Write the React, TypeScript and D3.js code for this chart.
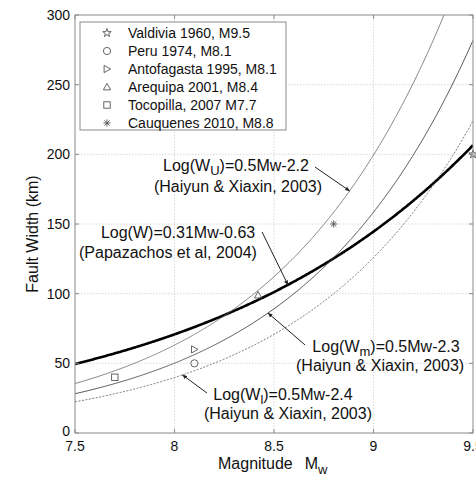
import React from "react";
import * as d3 from "d3";

const WIDTH = 476;
const HEIGHT = 478;

const xTicks = [7.5, 8, 8.5, 9, 9.5];
const xTickLabels = ["7.5", "8", "8.5", "9", "9.5"];
const yTicks = [0, 50, 100, 150, 200, 250, 300];
const yTickLabels = ["0", "50", "100", "150", "200", "250", "300"];

const eventNames = [
  "Valdivia 1960, M9.5",
  "Peru 1974, M8.1",
  "Antofagasta 1995, M8.1",
  "Arequipa 2001, M8.4",
  "Tocopilla, 2007 M7.7",
  "Cauquenes 2010, M8.8",
];
const eventMw = [9.5, 8.1, 8.1, 8.42, 7.7, 8.8];
const eventWidth = [200, 50, 60, 99, 40, 150];
const eventSymbols = ["star", "circle", "triRight", "triUp", "square", "asterisk"];

// Log10(W) = slope * Mw + intercept
const curveNames = ["Papazachos", "Wu", "Wm", "Wl"];
const curveSlopes = [0.31, 0.5, 0.5, 0.5];
const curveIntercepts = [-0.63, -2.2, -2.3, -2.4];
const curveStroke = ["#000", "#666", "#444", "#555"];
const curveWidth = [2.6, 0.8, 0.9, 0.8];
const curveDash = ["", "", "", "2,1.5"];

// annotations: curve index, arrow tip Mw, arrow start (Mw, W), text lines
const annCurve = [1, 0, 2, 3];
const annTipMw = [8.88, 8.57, 8.47, 8.04];
const annStart = [
  [8.706, 190.9],
  [8.44, 144.3],
  [8.656, 63.2],
  [8.163, 28.7],
];
const annMain = ["U", "", "m", "l"];
const annRest = ["=0.5Mw-2.2", "=0.31Mw-0.63", "=0.5Mw-2.3", "=0.5Mw-2.4"];
const annLine2 = [
  "(Haiyun & Xiaxin, 2003)",
  "(Papazachos et al, 2004)",
  "(Haiyun & Xiaxin, 2003)",
  "(Haiyun & Xiaxin, 2003)",
];
const annLine1Pos = [
  [8.309, 188.0],
  [8.018, 140.0],
  [9.063, 58.1],
  [8.545, 23.7],
];
const annLine2Pos = [
  [8.319, 173.0],
  [7.967, 125.6],
  [9.033, 44.5],
  [8.57, 10.0],
];

const FONT = "'Liberation Sans', Arial, Helvetica, sans-serif";

function Marker({ type, cx, cy, color = "#333" }: { type: string; cx: number; cy: number; color?: string }) {
  const r = 3.6;
  const common = { fill: "none", stroke: color, strokeWidth: 0.9 };
  switch (type) {
    case "star": {
      const p = d3.symbol(d3.symbolStar, 22)();
      return <path d={p || ""} transform={`translate(${cx},${cy})`} {...common} />;
    }
    case "circle":
      return <circle cx={cx} cy={cy} r={r} {...common} />;
    case "triRight":
      return (
        <path
          d={`M${cx - r * 0.8},${cy - r} L${cx + r},${cy} L${cx - r * 0.8},${cy + r} Z`}
          {...common}
        />
      );
    case "triUp":
      return (
        <path
          d={`M${cx},${cy - r} L${cx + r},${cy + r * 0.8} L${cx - r},${cy + r * 0.8} Z`}
          {...common}
        />
      );
    case "square":
      return <rect x={cx - 3.2} y={cy - 3.2} width={6.4} height={6.4} {...common} />;
    case "asterisk": {
      const a = r * 0.72;
      return (
        <g {...common}>
          <line x1={cx - r} y1={cy} x2={cx + r} y2={cy} />
          <line x1={cx} y1={cy - r} x2={cx} y2={cy + r} />
          <line x1={cx - a} y1={cy - a} x2={cx + a} y2={cy + a} />
          <line x1={cx - a} y1={cy + a} x2={cx + a} y2={cy - a} />
        </g>
      );
    }
  }
  return null;
}

export default function App() {
  const x = d3.scaleLinear().domain([7.5, 9.5]).range([75, 473]);
  const y = d3.scaleLinear().domain([0, 300]).range([433, 15]);
  const [x0, x1] = x.range();
  const [y0, y1] = y.range();

  const mwGrid = d3.range(7.5, 9.5001, 0.005);
  const curveFn = (i: number) => (m: number) => Math.pow(10, curveSlopes[i] * m + curveIntercepts[i]);
  const line = d3
    .line<[number, number]>()
    .x((d) => x(d[0]))
    .y((d) => y(d[1]));

  const tickLen = 4;

  return (
    <svg
      width={WIDTH}
      height={HEIGHT}
      style={{ position: "absolute", left: 0, top: 0, background: "#fff" }}
      fontFamily={FONT}
    >
      <defs>
        <clipPath id="plotClip">
          <rect x={x0} y={y1} width={x1 - x0} height={y0 - y1} />
        </clipPath>
        <marker id="arrow" viewBox="0 0 10 10" refX="9" refY="5" markerWidth="5" markerHeight="5" orient="auto">
          <path d="M0,1 L10,5 L0,9 Z" fill="#222" />
        </marker>
      </defs>
      <rect x={x0} y={y1} width={x1 - x0} height={y0 - y1} fill="#fff" />

      {/* grid */}
      <g stroke="#cfcfcf" strokeWidth={0.8} strokeDasharray="1.5,1.5">
        {xTicks.slice(1, -1).map((t) => (
          <line key={"gx" + t} x1={x(t)} x2={x(t)} y1={y0} y2={y1} />
        ))}
        {yTicks.slice(1, -1).map((t) => (
          <line key={"gy" + t} x1={x0} x2={x1} y1={y(t)} y2={y(t)} />
        ))}
      </g>

      {/* curves */}
      <g clipPath="url(#plotClip)">
        {curveNames.map((n, i) => {
          const f = curveFn(i);
          const pts = mwGrid.map((m) => [m, f(m)] as [number, number]);
          return (
            <path
              key={n}
              d={line(pts) || ""}
              fill="none"
              stroke={curveStroke[i]}
              strokeWidth={curveWidth[i]}
              strokeDasharray={curveDash[i] || undefined}
            />
          );
        })}
      </g>

      {/* data points */}
      <g>
        {eventNames.map((n, i) => (
          <Marker key={n} type={eventSymbols[i]} cx={x(eventMw[i])} cy={y(eventWidth[i])} color="#555" />
        ))}
      </g>

      {/* axes box */}
      <rect x={x0} y={y1} width={x1 - x0} height={y0 - y1} fill="none" stroke="#8a8a8a" strokeWidth={1} />
      <g stroke="#8a8a8a" strokeWidth={1}>
        {xTicks.map((t) => (
          <g key={"tx" + t}>
            <line x1={x(t)} x2={x(t)} y1={y0} y2={y0 - tickLen} />
            <line x1={x(t)} x2={x(t)} y1={y1} y2={y1 + tickLen} />
          </g>
        ))}
        {yTicks.map((t) => (
          <g key={"ty" + t}>
            <line x1={x0} x2={x0 + tickLen} y1={y(t)} y2={y(t)} />
            <line x1={x1} x2={x1 - tickLen} y1={y(t)} y2={y(t)} />
          </g>
        ))}
      </g>

      {/* tick labels */}
      <g fontSize={14} fill="#111">
        {xTicks.map((t, i) => (
          <text key={"lx" + t} x={x(t)} y={y0 + 18} textAnchor="middle">
            {xTickLabels[i]}
          </text>
        ))}
        {yTicks.map((t, i) => (
          <text key={"ly" + t} x={x0 - 5} y={y(t) + (t === 0 ? 3 : 5)} textAnchor="end">
            {yTickLabels[i]}
          </text>
        ))}
      </g>

      {/* axis titles */}
      <text x={218} y={469} textAnchor="start" fontSize={16} fill="#111">
        Magnitude<tspan dx={12}>M</tspan>
        <tspan dy={5} fontSize={13}>w</tspan>
      </text>
      <text transform="translate(38,234) rotate(-90)" textAnchor="middle" fontSize={16} fill="#111">
        Fault Width (km)
      </text>

      {/* annotations */}
      <g fontSize={16} fill="#111">
        {annCurve.map((ci, i) => {
          const f = curveFn(ci);
          const tipX = x(annTipMw[i]);
          const tipY = y(f(annTipMw[i]));
          const sx = x(annStart[i][0]);
          const sy = y(annStart[i][1]);
          return (
            <g key={"ann" + i}>
              <line x1={sx} y1={sy} x2={tipX} y2={tipY} stroke="#222" strokeWidth={1} markerEnd="url(#arrow)" />
              <text x={x(annLine1Pos[i][0])} y={y(annLine1Pos[i][1])} textAnchor="middle">
                {annMain[i] ? (
                  <>
                    Log(W<tspan dy={4} fontSize={13}>{annMain[i]}</tspan>
                    <tspan dy={-4}>){annRest[i]}</tspan>
                  </>
                ) : (
                  <>Log(W){annRest[i]}</>
                )}
              </text>
              <text x={x(annLine2Pos[i][0])} y={y(annLine2Pos[i][1])} textAnchor="middle">
                {annLine2[i]}
              </text>
            </g>
          );
        })}
      </g>

      {/* legend */}
      <g>
        <rect x={80} y={22} width={206} height={108} fill="#fff" stroke="#8a8a8a" strokeWidth={1} />
        {eventNames.map((n, i) => {
          const cy = 33 + i * 18;
          return (
            <g key={"lg" + n}>
              <Marker type={eventSymbols[i]} cx={107} cy={cy} color="#555" />
              <text x={128} y={cy + 5} fontSize={14} fill="#111">
                {n}
              </text>
            </g>
          );
        })}
      </g>
    </svg>
  );
}
